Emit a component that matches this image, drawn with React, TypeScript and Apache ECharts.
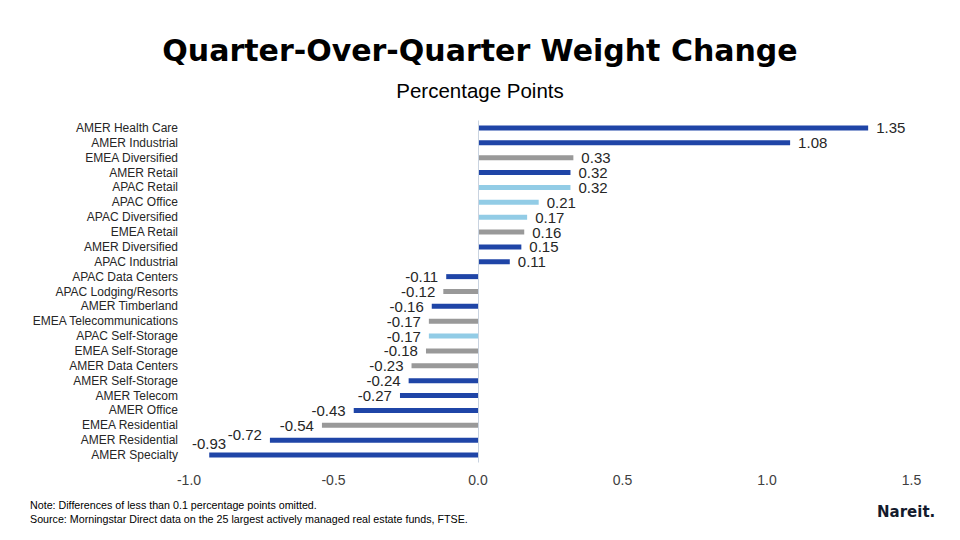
import React, { useEffect, useRef } from "react";
import * as echarts from "echarts";

const categories = [
  "AMER Health Care", "AMER Industrial", "EMEA Diversified", "AMER Retail", "APAC Retail",
  "APAC Office", "APAC Diversified", "EMEA Retail", "AMER Diversified", "APAC Industrial",
  "APAC Data Centers", "APAC Lodging/Resorts", "AMER Timberland", "EMEA Telecommunications",
  "APAC Self-Storage", "EMEA Self-Storage", "AMER Data Centers", "AMER Self-Storage",
  "AMER Telecom", "AMER Office", "EMEA Residential", "AMER Residential", "AMER Specialty",
];
const values = [
  1.35, 1.08, 0.33, 0.32, 0.32, 0.21, 0.17, 0.16, 0.15, 0.11,
  -0.11, -0.12, -0.16, -0.17, -0.17, -0.18, -0.23, -0.24, -0.27, -0.43, -0.54, -0.72, -0.93,
];
const colorGroups = [
  "blue", "blue", "gray", "blue", "light", "light", "light", "gray", "blue", "blue",
  "blue", "gray", "blue", "gray", "light", "gray", "gray", "blue", "blue", "blue", "gray", "blue", "blue",
];
const xTicks = { min: -1.0, max: 1.5, interval: 0.5 };

const palette: Record<string, string> = { blue: "#1F45A7", gray: "#999999", light: "#92CCE6" };
const labelNudges: Record<string, [number, number]> = {
  "AMER Residential": [0, -6],
  "AMER Specialty": [25, -12],
};

export default function App() {
  const ref = useRef<HTMLDivElement>(null);
  useEffect(() => {
    if (!ref.current) return;
    const chart = echarts.init(ref.current, undefined, { renderer: "svg" });
    const font = "'Liberation Sans', Arial, sans-serif";
    const heavy = "'DejaVu Sans', 'Liberation Sans', sans-serif";
    const data = values.map((v, i) => {
      const nudge = labelNudges[categories[i]];
      return {
        value: v,
        itemStyle: { color: palette[colorGroups[i]] },
        label: {
          position: v >= 0 ? "right" : "left",
          ...(nudge ? { offset: nudge } : {}),
        },
      };
    });
    chart.setOption({
      animation: false,
      backgroundColor: "#ffffff",
      title: [
        {
          text: "Quarter-Over-Quarter Weight Change",
          left: "center",
          top: 30,
          textStyle: { fontFamily: heavy, fontSize: 30, fontWeight: "bold", color: "#000000" },
        },
        {
          text: "Percentage Points",
          left: "center",
          top: 75,
          textStyle: { fontFamily: font, fontSize: 20.5, fontWeight: "normal", color: "#000000" },
        },
      ],
      grid: { left: 189, right: 48.5, top: 120.5, bottom: 77.5, containLabel: false },
      xAxis: {
        type: "value",
        min: xTicks.min,
        max: xTicks.max,
        interval: xTicks.interval,
        axisLine: { show: false },
        axisTick: { show: false },
        splitLine: { show: false },
        axisLabel: {
          fontFamily: font,
          fontSize: 14,
          color: "#404040",
          margin: 10,
          formatter: (v: number) => v.toFixed(1),
        },
      },
      yAxis: {
        type: "category",
        data: categories,
        inverse: true,
        axisLine: { show: false },
        axisTick: { show: false },
        axisLabel: { interval: 0, fontFamily: font, fontSize: 12, color: "#262626", margin: 11 },
      },
      series: [
        {
          type: "bar",
          data,
          barWidth: 5,
          label: {
            show: true,
            distance: 8,
            fontFamily: font,
            fontSize: 15,
            color: "#262626",
            formatter: (p: any) => p.value.toFixed(2),
          },
          markLine: {
            silent: true,
            symbol: "none",
            label: { show: false },
            lineStyle: { color: "#C9D3E0", width: 1, type: "solid" },
            data: [{ xAxis: 0 }],
          },
        },
      ],
      graphic: [
        {
          type: "text",
          left: 30,
          top: 499,
          style: {
            text: "Note: Differences of less than 0.1 percentage points omitted.",
            fontFamily: font,
            fontSize: 10.7,
            fill: "#000000",
          },
        },
        {
          type: "text",
          left: 30,
          top: 513,
          style: {
            text: "Source: Morningstar Direct data on the 25 largest actively managed real estate funds, FTSE.",
            fontFamily: font,
            fontSize: 10.7,
            fill: "#000000",
          },
        },
        {
          type: "text",
          left: 877,
          top: 504,
          style: {
            text: "Nareit.",
            fontFamily: heavy,
            fontSize: 15,
            fontWeight: "bold",
            fill: "#141b2d",
          },
        },
      ],
    });
    return () => chart.dispose();
  }, []);
  return <div ref={ref} style={{ width: 960, height: 540, margin: -8 }} />;
}
